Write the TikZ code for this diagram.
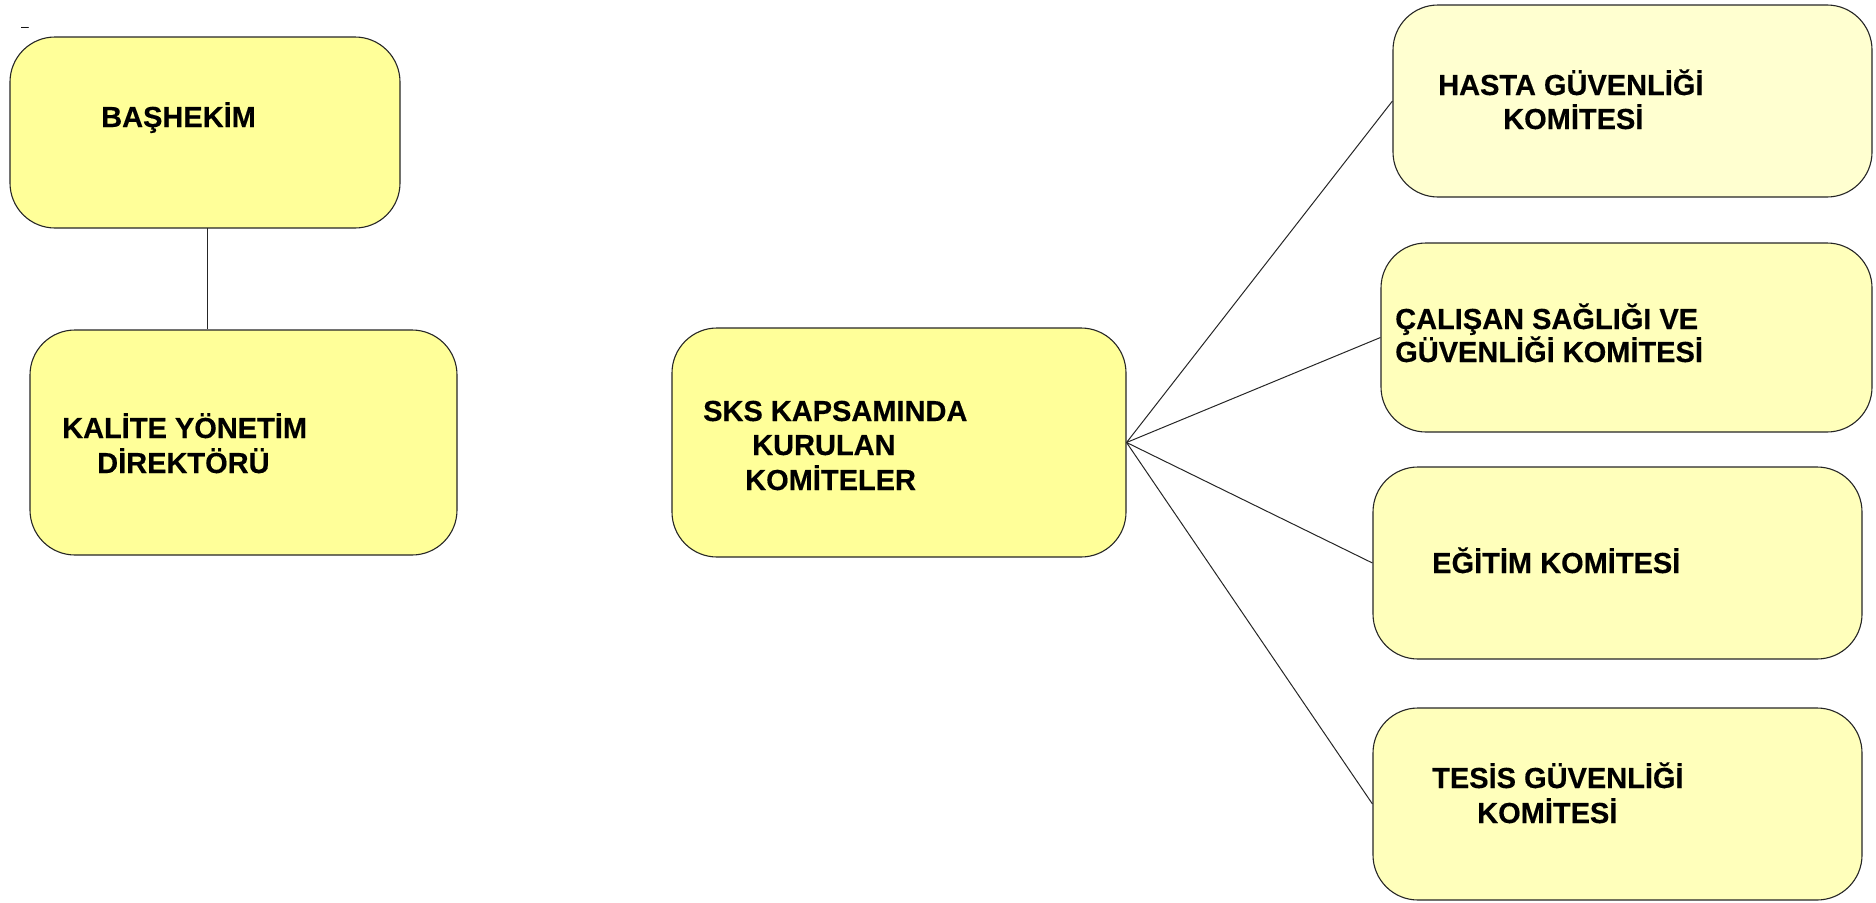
\documentclass[tikz,border=0pt]{standalone}
\usepackage{fontspec}
\setmainfont{Liberation Sans}[BoldFeatures={FakeBold=0.4}]
\definecolor{yelA}{HTML}{FFFF99}
\definecolor{yelB}{HTML}{FFFFD0}
\definecolor{yelC}{HTML}{FFFFBB}
\tikzset{
  box/.style={draw=black!85, line width=1.1pt, rounded corners=45pt, rectangle, inner sep=0pt},
  lbl/.style={anchor=base west, inner sep=0pt, font=\fontsize{29}{35}\selectfont\bfseries},
  conn/.style={draw=black!85, line width=1pt}
}
\begin{document}
\begin{tikzpicture}[x=1pt,y=-1pt]
\useasboundingbox (0,0) rectangle (1876,902);
\node[anchor=base west, inner sep=0pt, font=\fontsize{14}{16}\selectfont] (dash) at (21,31) {–};
% boxes
\node[box, fill=yelA, minimum width=390pt, minimum height=191pt] (bas) at (205,132.5) {};
\node[box, fill=yelA, minimum width=427pt, minimum height=225pt] (kal) at (243.5,442.5) {};
\node[box, fill=yelA, minimum width=454pt, minimum height=229pt] (sks) at (899,442.5) {};
\node[box, fill=yelB, minimum width=479pt, minimum height=192pt] (has) at (1632.5,101) {};
\node[box, fill=yelC, minimum width=491pt, minimum height=189pt] (cal) at (1626.5,337.5) {};
\node[box, fill=yelC, minimum width=489pt, minimum height=192pt] (egt) at (1617.5,563) {};
\node[box, fill=yelC, minimum width=489pt, minimum height=192pt] (tes) at (1617.5,804) {};
% connectors
\coordinate (bk) at (207,228);
\draw[conn] (bk) -- (bk |- kal.north);
\draw[conn] (sks.east) -- (has.west);
\draw[conn] (sks.east) -- (cal.west);
\draw[conn] (sks.east) -- (egt.west);
\draw[conn] (sks.east) -- (tes.west);
% labels
\node[lbl] (t1) at (101,127) {BAŞHEKİM};
\node[lbl] (t2) at (62,438) {KALİTE YÖNETİM};
\node[lbl] (t3) at (97,473) {DİREKTÖRÜ};
\node[lbl] (t4) at (703,421) {SKS KAPSAMINDA};
\node[lbl] (t5) at (752,455) {KURULAN};
\node[lbl] (t6) at (745,490) {KOMİTELER};
\node[lbl] (t7) at (1438,95) {HASTA GÜVENLİĞİ};
\node[lbl] (t8) at (1503,129) {KOMİTESİ};
\node[lbl] (t9) at (1395,329) {ÇALIŞAN SAĞLIĞI VE};
\node[lbl] (t10) at (1395,362) {GÜVENLİĞİ KOMİTESİ};
\node[lbl] (t11) at (1432,573) {EĞİTİM KOMİTESİ};
\node[lbl] (t12) at (1432,788) {TESİS GÜVENLİĞİ};
\node[lbl] (t13) at (1477,823) {KOMİTESİ};
\end{tikzpicture}
\end{document}
